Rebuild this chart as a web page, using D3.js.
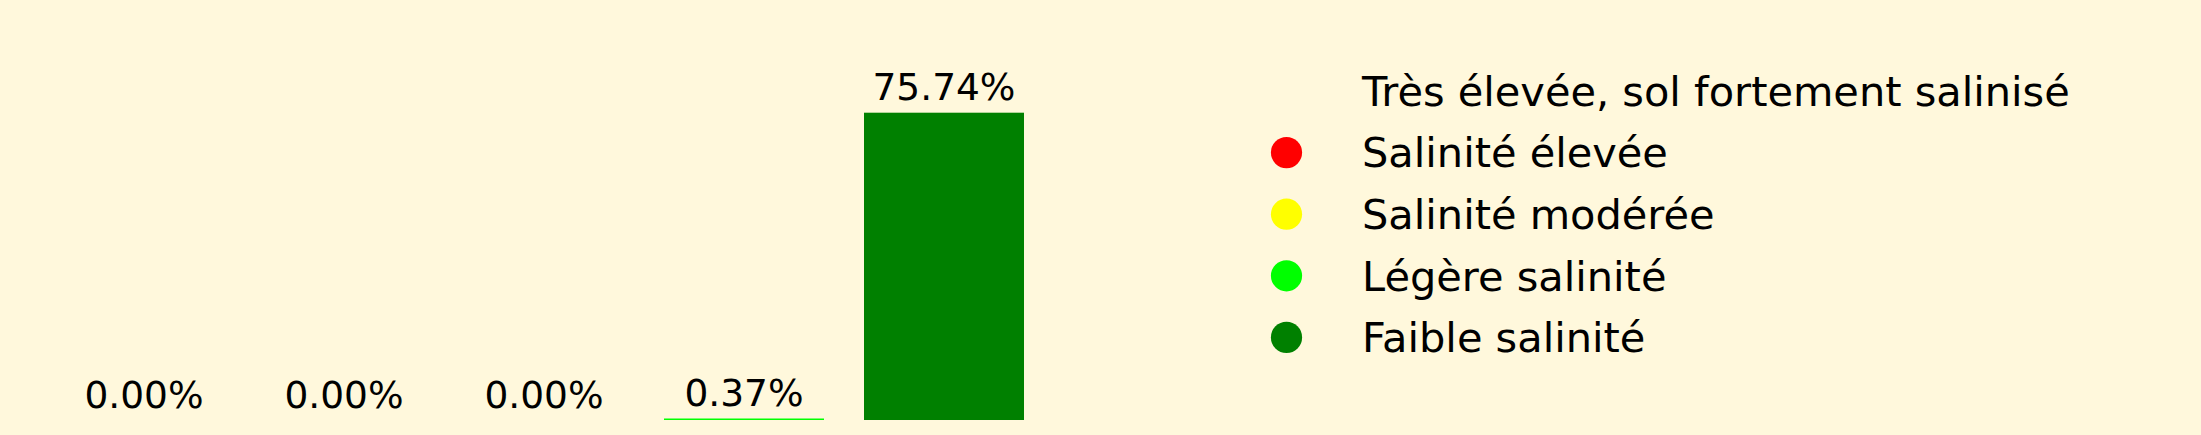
<!DOCTYPE html>
<html lang="fr">
  <head>
    <meta charset="UTF-8" />
    <title>salinite</title>
    <script src="https://d3js.org/d3.v7.min.js"></script>
    <style>
      body { margin: 0; background: #fff8dc; }
      text { font-family: 'DejaVu Sans', sans-serif; fill: #000; }
    </style>
  </head>
  <body>
    <svg width="2201" height="435"></svg>
  </body>

  <script>
    // données
    var categories = [
      'Très élevée, sol fortement salinisé',
      'Salinité élevée',
      'Salinité modérée',
      'Légère salinité',
      'Faible salinité',
    ]
    var values = [0.0, 0.0, 0.0, 0.37, 75.74]
    var colors = ['none', '#ff0000', '#ffff00', '#00ff00', '#008000']

    var svg = d3.select('svg')
    svg.append('rect').attr('width', 2201).attr('height', 435).attr('fill', '#fff8dc')

    // échelles
    var x = d3.scaleBand().domain(categories).range([44, 1044]).paddingInner(0.2).paddingOuter(0.1)
    var y = d3.scaleLinear().domain([0, d3.max(values)]).range([420, 112.7])

    var bars = svg.append('g')
    bars
      .selectAll('rect')
      .data(categories)
      .enter()
      .append('rect')
      .attr('x', function (d) { return x(d) })
      .attr('y', function (d, i) { return y(values[i]) })
      .attr('width', x.bandwidth())
      .attr('height', function (d, i) { return y(0) - y(values[i]) })
      .attr('fill', function (d, i) { return colors[i] })

    // étiquettes
    bars
      .selectAll('text')
      .data(categories)
      .enter()
      .append('text')
      .attr('x', function (d) { return x(d) + x.bandwidth() / 2 })
      .attr('y', function (d, i) { return y(values[i]) - 12.5 })
      .attr('text-anchor', 'middle')
      .style('font-size', '37.5px')
      .text(function (d, i) { return values[i].toFixed(2) + '%' })

    // légende
    var legend = svg.append('g')
    var rowY = d3.scaleLinear().domain([0, 1]).range([91, 152.6])
    var row = legend
      .selectAll('g')
      .data(categories)
      .enter()
      .append('g')
      .attr('transform', function (d, i) { return 'translate(0,' + rowY(i) + ')' })

    row.append('circle')
      .attr('cx', 1286.5)
      .attr('r', 15.6)
      .attr('fill', function (d, i) { return colors[i] })

    row.append('text')
      .attr('x', 1362)
      .attr('y', 14.8)
      .style('font-size', '41.5px')
      .text(function (d) { return d })
  </script>
</html>
